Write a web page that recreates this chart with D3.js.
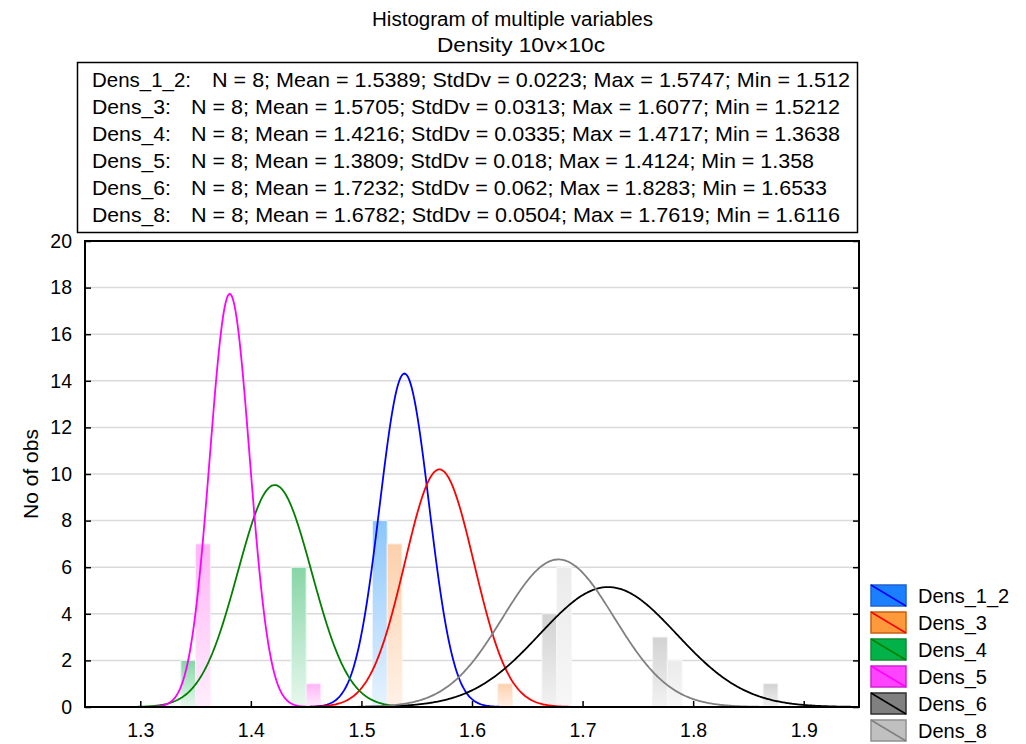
<!DOCTYPE html>
<html>
<head>
<meta charset="utf-8">
<script src="https://cdn.jsdelivr.net/npm/d3@7"></script>
<style>
  body { margin: 0; background: #fff; }
  svg text { font-family: "Liberation Sans", Arial, Helvetica, sans-serif; fill: #000; }
</style>
</head>
<body>
<svg id="canvas" width="1026" height="744"></svg>
<script>
// series and their summary stats (from the box on top)
const series = ['Dens_1_2', 'Dens_3', 'Dens_4', 'Dens_5', 'Dens_6', 'Dens_8']
const nObs = [8, 8, 8, 8, 8, 8]
const means = [1.5389, 1.5705, 1.4216, 1.3809, 1.7232, 1.6782]
const sds = [0.0223, 0.0313, 0.0335, 0.018, 0.062, 0.0504]
const maxs = ['1.5747', '1.6077', '1.4717', '1.4124', '1.8283', '1.7619']
const mins = ['1.512', '1.5212', '1.3638', '1.358', '1.6533', '1.6116']
const meanTxt = ['1.5389', '1.5705', '1.4216', '1.3809', '1.7232', '1.6782']
const sdTxt = ['0.0223', '0.0313', '0.0335', '0.018', '0.062', '0.0504']

// histogram bins (lower edges, width 0.1) and counts per series
const binStarts = [1.3, 1.4, 1.5, 1.6, 1.7, 1.8]
const counts = {
    'Dens_1_2': [0, 0, 8, 0, 0, 0],
    'Dens_3':   [0, 0, 7, 1, 0, 0],
    'Dens_4':   [2, 6, 0, 0, 0, 0],
    'Dens_5':   [7, 1, 0, 0, 0, 0],
    'Dens_6':   [0, 0, 0, 4, 3, 1],
    'Dens_8':   [0, 0, 0, 6, 2, 0]
}
const binWidth = 0.1

const xTicks = [1.3, 1.4, 1.5, 1.6, 1.7, 1.8, 1.9]
const yTicks = [0, 2, 4, 6, 8, 10, 12, 14, 16, 18, 20]

const fillColors = ['#1a80ff', '#ff9a3c', '#00b248', '#ff44ff', '#808080', '#c0c0c0']
const edgeColors = ['#2060d0', '#c86010', '#108a30', '#d020d0', '#303030', '#909090']
const lineColors = ['#0000ff', '#ff0000', '#008000', '#ff00ff', '#000000', '#808080']
const barTop = ['#8cc6fa', '#fdd0ac', '#86d6a6', '#ffb4f6', '#d2d2d2', '#ebebeb']
const barBottom = ['#e6f3ff', '#fff1e6', '#e8f8ee', '#ffeefd', '#f2f2f2', '#f7f7f7']

const svg = d3.select('#canvas')
const margin = {left: 85, right: 167, top: 241, bottom: 37}
const W = 1026, H = 744
const x = d3.scaleLinear().domain([1.25, 1.95]).range([margin.left, W - margin.right])
const y = d3.scaleLinear().domain([0, 20]).range([H - margin.bottom, margin.top])

// titles
svg.append('text').attr('x', 372).attr('y', 26)
    .attr('textLength', 281).attr('lengthAdjust', 'spacingAndGlyphs')
    .style('font-size', '19.5px').text('Histogram of multiple variables')
svg.append('text').attr('x', 437).attr('y', 52)
    .attr('textLength', 168).attr('lengthAdjust', 'spacingAndGlyphs')
    .style('font-size', '19.5px').text('Density 10v\u00d710c')

// stats box
svg.append('rect').attr('x', 77.5).attr('y', 62.5).attr('width', 780).attr('height', 170)
    .attr('fill', 'none').attr('stroke', '#000').attr('stroke-width', 1.5)
const rowEnd = [850, 840, 840, 814, 827, 840]
const statRows = svg.append('g').selectAll('g').data(series).enter().append('g')
statRows.append('text')
    .attr('x', 92).attr('y', (d, i) => 87 + i * 27)
    .attr('textLength', (d, i) => i === 0 ? 99 : 79).attr('lengthAdjust', 'spacingAndGlyphs')
    .style('font-size', '20.5px').text(d => d + ':')
statRows.append('text')
    .attr('x', (d, i) => i === 0 ? 212 : 191).attr('y', (d, i) => 87 + i * 27)
    .attr('textLength', (d, i) => rowEnd[i] - (i === 0 ? 212 : 191)).attr('lengthAdjust', 'spacingAndGlyphs')
    .style('font-size', '20.5px')
    .text((d, i) => `N = ${nObs[i]}; Mean = ${meanTxt[i]}; StdDv = ${sdTxt[i]}; Max = ${maxs[i]}; Min = ${mins[i]}`)

// gradients for bars
const defs = svg.append('defs')
series.forEach((s, i) => {
    const g = defs.append('linearGradient').attr('id', 'grad' + i)
        .attr('x1', 0).attr('y1', 0).attr('x2', 0).attr('y2', 1)
    g.append('stop').attr('offset', '0%').attr('stop-color', barTop[i])
    g.append('stop').attr('offset', '100%').attr('stop-color', barBottom[i])
})
defs.append('clipPath').attr('id', 'plotclip').append('rect')
    .attr('x', x.range()[0]).attr('y', y.range()[1])
    .attr('width', x.range()[1] - x.range()[0]).attr('height', y.range()[0] - y.range()[1])

// grid
svg.append('g').selectAll('line').data(yTicks.slice(1, -1)).enter().append('line')
    .attr('x1', x.range()[0]).attr('x2', x.range()[1])
    .attr('y1', d => y(d)).attr('y2', d => y(d))
    .attr('stroke', '#dadada').attr('stroke-width', 1.5)

// bars, six slots per bin
const plot = svg.append('g').attr('clip-path', 'url(#plotclip)')
const barData = []
series.forEach((s, i) => {
    counts[s].forEach((c, b) => {
        if (c > 0) barData.push({series: s, idx: i, bin: binStarts[b], count: c})
    })
})
const slot = bin => d3.scaleBand().domain(series)
    .range([x(bin), x(bin + binWidth)]).paddingInner(0).paddingOuter(0.75)
plot.selectAll('rect.bar').data(barData).enter().append('rect')
    .attr('class', 'bar')
    .attr('x', d => slot(d.bin)(d.series))
    .attr('width', d => slot(d.bin).bandwidth())
    .attr('y', d => y(d.count))
    .attr('height', d => y(0) - y(d.count))
    .attr('fill', d => `url(#grad${d.idx})`)
    .attr('stroke', d => barBottom[d.idx])
    .attr('stroke-width', 1)

// fitted normal curves: N * binWidth * pdf
const xs = d3.range(1.25, 1.9501, 0.001)
const line = d3.line().x(d => x(d[0])).y(d => y(d[1]))
series.forEach((s, i) => {
    const pts = xs.map(v => {
        const z = (v - means[i]) / sds[i]
        return [v, nObs[i] * binWidth * Math.exp(-0.5 * z * z) / (sds[i] * Math.sqrt(2 * Math.PI))]
    })
    plot.append('path').datum(pts).attr('d', line)
        .attr('fill', 'none').attr('stroke', lineColors[i]).attr('stroke-width', 1.8)
})

// axes
const axisFont = g => g.selectAll('text').style('font-size', '19.5px').style('font-family', '"Liberation Sans", Arial, sans-serif')
const xAxis = svg.append('g').attr('transform', `translate(0,${y(0)})`)
    .call(d3.axisBottom(x).tickValues(xTicks).tickFormat(d3.format('.1f')).tickSizeInner(-6).tickSizeOuter(0).tickPadding(16))
xAxis.call(axisFont)
xAxis.select('.domain').remove()
xAxis.selectAll('line').attr('stroke-width', 1.5)

const yAxis = svg.append('g').attr('transform', `translate(${x.range()[0]},0)`)
    .call(d3.axisLeft(y).tickValues(yTicks).tickSizeInner(-6).tickSizeOuter(0).tickPadding(13))
yAxis.call(axisFont)
yAxis.select('.domain').remove()
yAxis.selectAll('line').attr('stroke-width', 1.5)

const yRight = svg.append('g').attr('transform', `translate(${x.range()[1]},0)`)
    .call(d3.axisRight(y).tickValues(yTicks).tickSizeInner(-6).tickSizeOuter(0).tickFormat(''))
yRight.select('.domain').remove()
yRight.selectAll('line').attr('stroke-width', 1.5)

// frame
svg.append('rect').attr('x', x.range()[0]).attr('y', y.range()[1])
    .attr('width', x.range()[1] - x.range()[0]).attr('height', y.range()[0] - y.range()[1])
    .attr('fill', 'none').attr('stroke', '#000').attr('stroke-width', 2)

svg.append('text').attr('transform', `translate(38,${(y(0) + y(20)) / 2}) rotate(-90)`)
    .attr('text-anchor', 'middle').style('font-size', '21px').text('No of obs')

// legend
const legend = svg.append('g').selectAll('g').data(series).enter().append('g')
    .attr('transform', (d, i) => `translate(871,${585 + i * 27})`)
legend.append('rect').attr('width', 35).attr('height', 21)
    .attr('fill', (d, i) => fillColors[i]).attr('stroke', (d, i) => edgeColors[i]).attr('stroke-width', 1.5)
legend.append('line').attr('x1', 0).attr('y1', 0).attr('x2', 35).attr('y2', 21)
    .attr('stroke', (d, i) => lineColors[i]).attr('stroke-width', 1.5)
legend.append('text').attr('x', 47).attr('y', 18).style('font-size', '20px').text(d => d)
</script>
</body>
</html>
